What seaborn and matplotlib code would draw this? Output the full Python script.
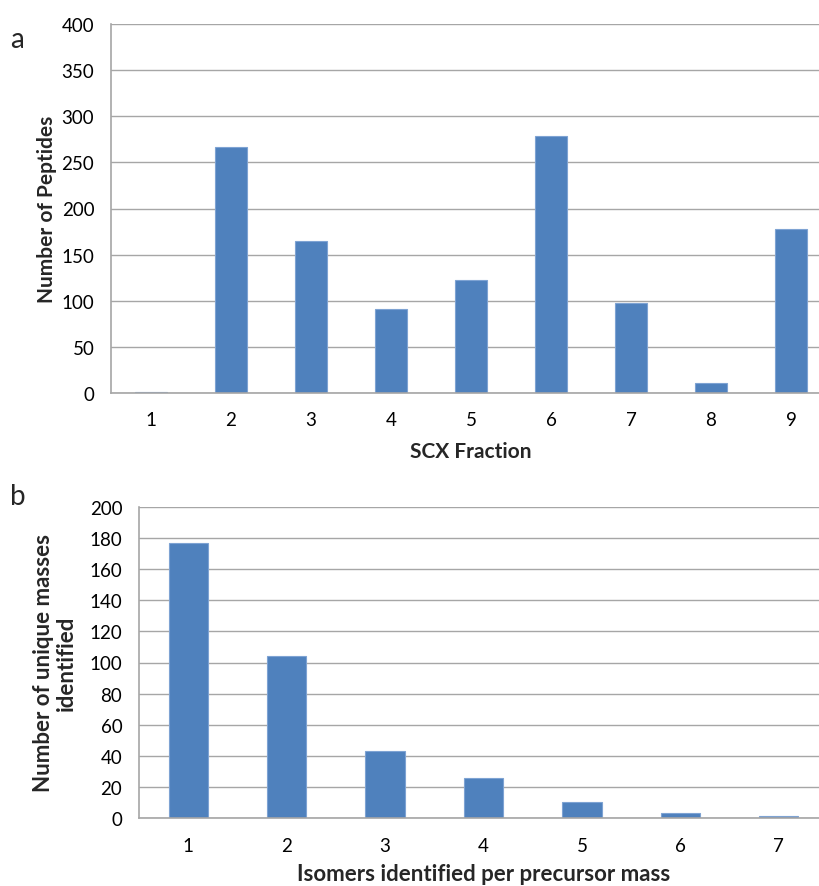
import numpy as np
import pandas as pd
import seaborn as sns
import matplotlib.pyplot as plt
from matplotlib.ticker import FixedLocator

# panel a data
scx_fraction = ["1", "2", "3", "4", "5", "6", "7", "8", "9"]
n_peptides = [1, 267, 165, 91, 123, 279, 98, 11, 178]

# panel b data
isomers = ["1", "2", "3", "4", "5", "6", "7"]
n_masses = [177, 104, 43, 26, 10, 3, 1]

sns.set_style("white")
plt.rcParams["font.family"] = ["Lato", "DejaVu Sans"]

bar_color = "#4f81bd"
grid_color = "#a6a6a6"

fig = plt.figure(figsize=(8.2, 8.87), dpi=100)
ax_a = fig.add_axes([111 / 820, 1 - 394 / 887, 720 / 820, 369 / 887])
ax_b = fig.add_axes([139 / 820, 1 - 819 / 887, 689 / 820, 311 / 887])


def style_axis(ax, cats, vals, ymax, ystep, xlabel, ylabel,
               label_size, xpad, xlabelpad, ylabelpad):
    df = pd.DataFrame({"cat": cats, "val": vals})
    sns.barplot(data=df, x="cat", y="val", ax=ax, color=bar_color,
                width=0.4, saturation=1, edgecolor="#7ea3d3", linewidth=0.8)
    n = len(cats)
    ax.set_xlim(-0.5, n - 0.5)
    ax.set_ylim(0, ymax)
    ax.set_yticks(np.arange(0, ymax + 1, ystep))
    ax.yaxis.grid(True, color=grid_color, linewidth=1)
    ax.set_axisbelow(True)
    for s in ["top", "right"]:
        ax.spines[s].set_visible(False)
    for s in ["left", "bottom"]:
        ax.spines[s].set_color(grid_color)
        ax.spines[s].set_linewidth(1.2)
    ax.tick_params(axis="x", which="major", length=0, labelsize=13.5,
                   pad=xpad, colors="black")
    ax.xaxis.set_minor_locator(FixedLocator(np.arange(0.5, n - 0.5, 1)))
    ax.tick_params(axis="x", which="minor", length=6, width=1.2,
                   color=grid_color, direction="out")
    ax.tick_params(axis="y", length=6, width=1.2, color=grid_color,
                   labelsize=13.5, pad=6, labelcolor="black", direction="out")
    ax.set_xlabel(xlabel, fontsize=label_size, fontweight="bold",
                  labelpad=xlabelpad)
    ax.set_ylabel(ylabel, fontsize=label_size, fontweight="bold",
                  labelpad=ylabelpad, linespacing=1.1)


style_axis(ax_a, scx_fraction, n_peptides, 400, 50,
           "SCX Fraction", "Number of Peptides",
           15, 13, 9, 3)
style_axis(ax_b, isomers, n_masses, 200, 20,
           "Isomers identified per precursor mass",
           "Number of unique masses\nidentified",
           16, 14, 6, 9)

fig.text(10 / 820, 1 - 40 / 887, "a", fontsize=20, va="center", ha="left")
fig.text(10 / 820, 1 - 497 / 887, "b", fontsize=20, va="center", ha="left")

fig.savefig("out.png", dpi=100)
